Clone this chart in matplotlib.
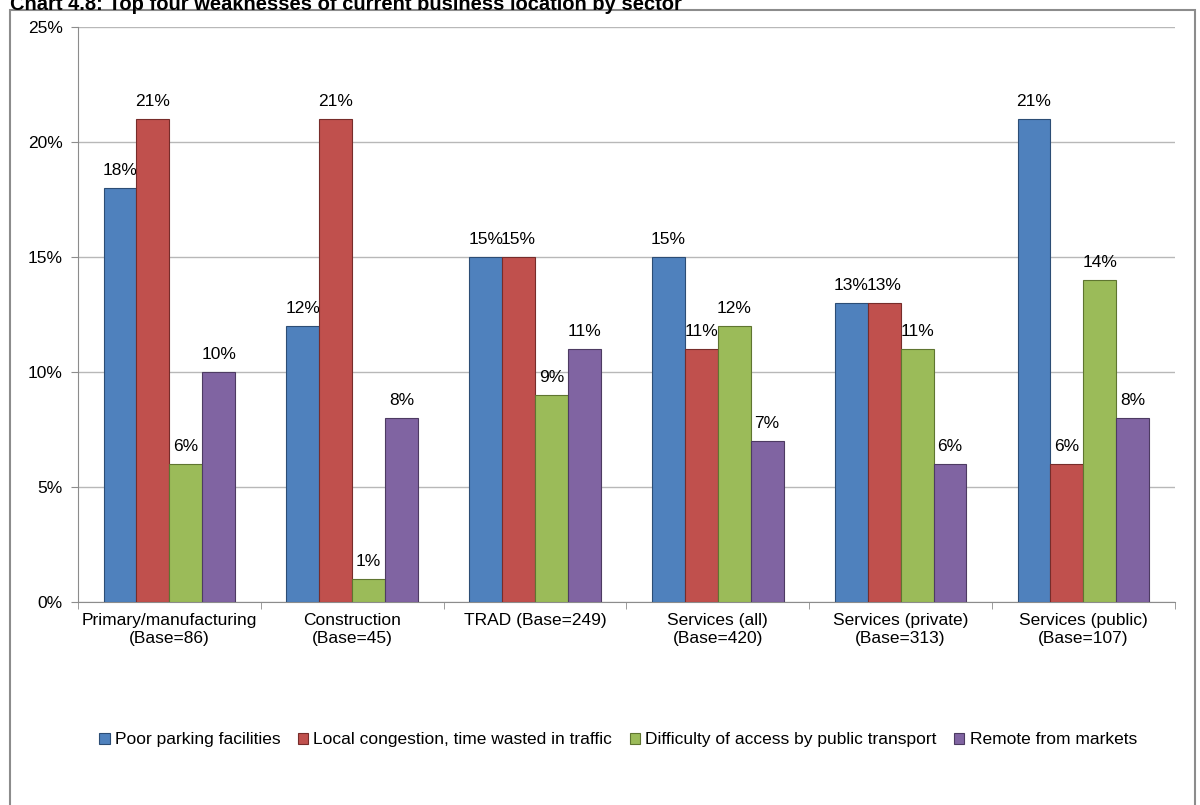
import matplotlib.pyplot as plt
import numpy as np
from matplotlib.patches import Rectangle

plt.rcParams['font.family'] = ['Liberation Sans', 'DejaVu Sans']

categories = ["Primary/manufacturing\n(Base=86)", "Construction\n(Base=45)", "TRAD (Base=249)",
              "Services (all)\n(Base=420)", "Services (private)\n(Base=313)", "Services (public)\n(Base=107)"]
series_names = ["Poor parking facilities", "Local congestion, time wasted in traffic",
                "Difficulty of access by public transport", "Remote from markets"]
parking = [18, 12, 15, 15, 13, 21]
congestion = [21, 21, 15, 11, 13, 6]
transport = [6, 1, 9, 12, 11, 14]
remote = [10, 8, 11, 7, 6, 8]
yticks = [0, 5, 10, 15, 20, 25]

colors = ['#4F81BD', '#C0504D', '#9BBB59', '#8064A2']
edges = ['#2c4d75', '#772c2a', '#5f7530', '#4d3b62']
fs = 12.5

fig = plt.figure(figsize=(12, 8.05), dpi=100)
ax = fig.add_axes([0.065, 0.252, 0.914, 0.714])

# outer chart border
fig.patches.append(Rectangle((10 / 1200, -0.05), 1185 / 1200, 1 - 10 / 805 + 0.05,
                             transform=fig.transFigure, fill=False,
                             edgecolor='#8c8c8c', linewidth=1.5))

fig.text(0.008, 1 - 4 / 805, "Chart 4.8: Top four weaknesses of current business location by sector",
         fontsize=14.5, fontweight='bold', ha='left', va='center')

x = np.arange(len(categories))
w = 0.18
allvals = [parking, congestion, transport, remote]
for i, vals in enumerate(allvals):
    pos = x + (i - 1.5) * w
    ax.bar(pos, vals, width=w, color=colors[i], edgecolor=edges[i], linewidth=0.8,
           label=series_names[i], zorder=3)
    for p, v in zip(pos, vals):
        ax.text(p, v + 0.45, f"{v}%", ha='center', va='bottom', fontsize=fs)

ax.set_xlim(-0.5, len(categories) - 0.5)
ax.set_ylim(0, 25)
ax.set_yticks(yticks)
ax.set_yticklabels([f"{t}%" for t in yticks], fontsize=fs)
ax.yaxis.grid(True, color='#b8b8b8', linewidth=1.0, zorder=0)
ax.set_xticks(x)
ax.set_xticklabels(categories, fontsize=fs)
ax.set_xticks(np.arange(-0.5, len(categories)), minor=True)
ax.tick_params(axis='x', which='major', length=0, pad=8)
ax.tick_params(axis='x', which='minor', length=5, color='#8c8c8c')
ax.tick_params(axis='y', length=5, color='#8c8c8c', pad=6)
for s in ['top', 'right']:
    ax.spines[s].set_visible(False)
ax.spines['left'].set_color('#8c8c8c')
ax.spines['bottom'].set_color('#8c8c8c')

fig.legend(loc='center', bbox_to_anchor=(0.515, 0.081), ncol=4, frameon=False,
           fontsize=fs, handlelength=0.6, handleheight=0.6, handletextpad=0.3,
           columnspacing=1.0)

fig.savefig("out.png", dpi=100)
